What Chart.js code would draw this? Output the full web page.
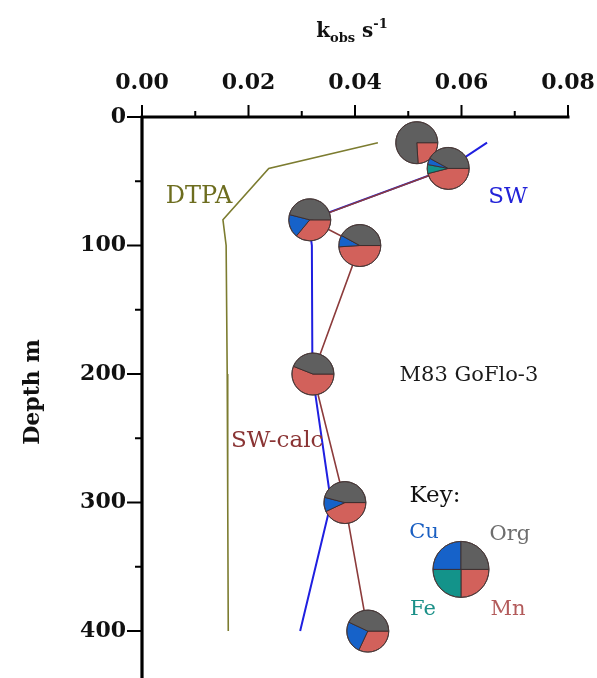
<!DOCTYPE html>
<html><head><meta charset="utf-8">
<script src="https://cdn.jsdelivr.net/npm/chart.js@4.4.1/dist/chart.umd.min.js"></script>
<style>html,body{margin:0;padding:0;background:#fff;overflow:hidden;}</style>
</head><body>
<canvas id="c" width="597" height="678"></canvas>
<script>
// ---- data ----
const dtpaDepth = [20, 40, 80, 100, 200, 300, 400];
const dtpaK     = [0.0443, 0.0238, 0.0152, 0.0158, 0.0160, 0.0161, 0.0162];
const swDepth   = [20, 40, 80, 100, 200, 300, 400];
const swK       = [0.0648, 0.0575, 0.0313, 0.0319, 0.0320, 0.0355, 0.0297];
const calcDepth = [20, 40, 80, 100, 200, 300, 400];
const calcK     = [0.0516, 0.0575, 0.0315, 0.0409, 0.0321, 0.0381, 0.0424];
// pie fractions (clockwise from 3 o'clock: Mn, Fe, Cu, Org)
const mnFrac  = [0.24, 0.46, 0.36, 0.49, 0.56, 0.43, 0.32];
const feFrac  = [0.00, 0.07, 0.00, 0.00, 0.00, 0.00, 0.00];
const cuFrac  = [0.00, 0.05, 0.18, 0.09, 0.00, 0.11, 0.25];
const orgFrac = [0.76, 0.42, 0.46, 0.42, 0.44, 0.46, 0.43];
const keyFrac = [0.25, 0.25, 0.25, 0.25];
const xTicks = [0, 0.02, 0.04, 0.06, 0.08];
const xMinor = [0.01, 0.03, 0.05, 0.07];
const yTicks = [0, 100, 200, 300, 400];
const yMinor = [50, 150, 250, 350];
const seriesNames = ['DTPA', 'SW', 'SW-calc'];

const COL = {mn:'#d2615b', fe:'#13938a', cu:'#1662c9', org:'#5f5f5f'};
const SERIF = '"DejaVu Serif", serif';

function pts(xs, ys){ return xs.map((v,i)=>({x:v, y:ys[i]})); }

function drawPie(ctx, cx, cy, r, fr){
  const cols = [COL.mn, COL.fe, COL.cu, COL.org];
  const tot = fr.reduce((s,v)=>s+v,0);
  let a = 0;
  for (let i=0;i<4;i++){
    if (fr[i] <= 0) continue;
    const a2 = a + fr[i]/tot*2*Math.PI;
    ctx.beginPath(); ctx.moveTo(cx,cy); ctx.arc(cx,cy,r,a,a2); ctx.closePath();
    ctx.fillStyle = cols[i]; ctx.fill();
    ctx.strokeStyle = '#3b2b2b'; ctx.lineWidth = 0.9; ctx.stroke();
    a = a2;
  }
  ctx.beginPath(); ctx.arc(cx,cy,r,0,2*Math.PI);
  ctx.strokeStyle = '#4a3a3a'; ctx.lineWidth = 0.9; ctx.stroke();
}

function noPad(s){ s.paddingLeft = 0; s.paddingRight = 0; s.paddingTop = 0; s.paddingBottom = 0; }

const overlay = {
  id: 'overlay',
  afterDatasetsDraw(chart){
    const ctx = chart.ctx, xs = chart.scales.x, ys = chart.scales.y;
    ctx.save();
    for (let i=0;i<calcK.length;i++){
      drawPie(ctx, xs.getPixelForValue(calcK[i]), ys.getPixelForValue(calcDepth[i]), 21,
        [mnFrac[i], feFrac[i], cuFrac[i], orgFrac[i]]);
    }
    const kx = xs.getPixelForValue(0.0599), ky = ys.getPixelForValue(352);
    drawPie(ctx, kx, ky, 28, keyFrac);
    ctx.textAlign = 'center'; ctx.textBaseline = 'middle';
    const keyLabels = [
      ['Key:', -26, -73, '#111111', 23],
      ['Cu', -37, -37, '#1a5fc2', 21],
      ['Org', 49, -35, '#6e6e6e', 21],
      ['Fe', -38, 40, '#1b9088', 21],
      ['Mn', 47, 40, '#b35b5b', 21]
    ];
    keyLabels.forEach(([t,dx,dy,c,sz])=>{ ctx.font = sz + 'px ' + SERIF; ctx.fillStyle=c; ctx.fillText(t, kx+dx, ky+dy); });
    const notes = [
      [seriesNames[0], 0.0107, 62, '#6d6d1f', 24],
      [seriesNames[1], 0.0687, 62, '#2323d8', 23],
      [seriesNames[2], 0.0254, 252, '#8a3434', 23],
      ['M83 GoFlo-3', 0.0614, 201, '#1a1a1a', 21]
    ];
    notes.forEach(([t,x,y,c,sz])=>{ ctx.font = sz + 'px ' + SERIF; ctx.fillStyle=c; ctx.fillText(t, xs.getPixelForValue(x), ys.getPixelForValue(y)); });
    ctx.restore();
  },
  afterDraw(chart){
    const ctx = chart.ctx, xs = chart.scales.x, ys = chart.scales.y, ca = chart.chartArea;
    ctx.save();
    ctx.strokeStyle = '#000'; ctx.lineWidth = 3.2; ctx.lineCap = 'butt';
    ctx.beginPath();
    ctx.moveTo(ca.left - 1.5, ca.top); ctx.lineTo(xs.getPixelForValue(0.08) + 1.5, ca.top);
    ctx.moveTo(ca.left, ca.top); ctx.lineTo(ca.left, ca.bottom);
    ctx.stroke();
    ctx.lineWidth = 2;
    ctx.beginPath();
    xTicks.forEach(v=>{ const p = xs.getPixelForValue(v); ctx.moveTo(p, ca.top); ctx.lineTo(p, ca.top-12); });
    xMinor.forEach(v=>{ const p = xs.getPixelForValue(v); ctx.moveTo(p, ca.top); ctx.lineTo(p, ca.top-6); });
    yTicks.forEach(v=>{ const p = ys.getPixelForValue(v); ctx.moveTo(ca.left, p); ctx.lineTo(ca.left-15, p); });
    yMinor.forEach(v=>{ const p = ys.getPixelForValue(v); ctx.moveTo(ca.left, p); ctx.lineTo(ca.left-7, p); });
    ctx.stroke();
    ctx.fillStyle = '#111'; ctx.textBaseline = 'alphabetic'; ctx.textAlign = 'left';
    const big = 'bold 20px ' + SERIF, small = 'bold 13px ' + SERIF;
    const parts = [['k', big, 0], ['obs', small, 5], [' s', big, 0], ['-1', small, -9]];
    let w = 0;
    parts.forEach(([t,f])=>{ ctx.font = f; w += ctx.measureText(t).width; });
    let x = 352 - w/2;
    parts.forEach(([t,f,dy])=>{ ctx.font = f; ctx.fillText(t, x, 37 + dy); x += ctx.measureText(t).width; });
    ctx.translate(33, 392); ctx.rotate(-Math.PI/2);
    ctx.textAlign = 'center'; ctx.textBaseline = 'middle';
    ctx.font = 'bold 22px ' + SERIF;
    ctx.fillText('Depth m', 0, 0);
    ctx.restore();
  }
};

new Chart(document.getElementById('c'), {
  type: 'line',
  data: {
    datasets: [
      {label: seriesNames[0], data: pts(dtpaK, dtpaDepth), borderColor: '#7c7c30', borderWidth: 1.6, pointRadius: 0, fill: false},
      {label: seriesNames[2], data: pts(calcK, calcDepth), borderColor: '#8c3b3b', borderWidth: 1.6, pointRadius: 0, fill: false},
      {label: seriesNames[1], data: pts(swK, swDepth), borderColor: '#1f1fe0', borderWidth: 2, pointRadius: 0, fill: false}
    ]
  },
  options: {
    responsive: false, animation: false, devicePixelRatio: 1,
    layout: {padding: {left: 0, top: 0, right: 29, bottom: 0}},
    plugins: {legend: {display: false}, tooltip: {enabled: false}},
    scales: {
      x: {
        type: 'linear', position: 'top', min: 0, max: 0.08,
        afterFit(s){ s.height = 117; noPad(s); },
        afterBuildTicks(s){ s.ticks = xTicks.map(v=>({value:v})); },
        grid: {display: false, drawTicks: false}, border: {display: false},
        ticks: {padding: 21, color: '#111', font: {family: SERIF, weight: 'bold', size: 22},
                maxRotation: 0, callback: v => v.toFixed(2)}
      },
      y: {
        type: 'linear', reverse: true, min: 0, max: 436.5,
        afterFit(s){ s.width = 142; noPad(s); },
        afterBuildTicks(s){ s.ticks = yTicks.map(v=>({value:v})); },
        grid: {display: false, drawTicks: false}, border: {display: false},
        ticks: {padding: 16, color: '#111', font: {family: SERIF, weight: 'bold', size: 22},
                callback: v => String(v)}
      }
    }
  },
  plugins: [overlay]
});
</script>
</body></html>
